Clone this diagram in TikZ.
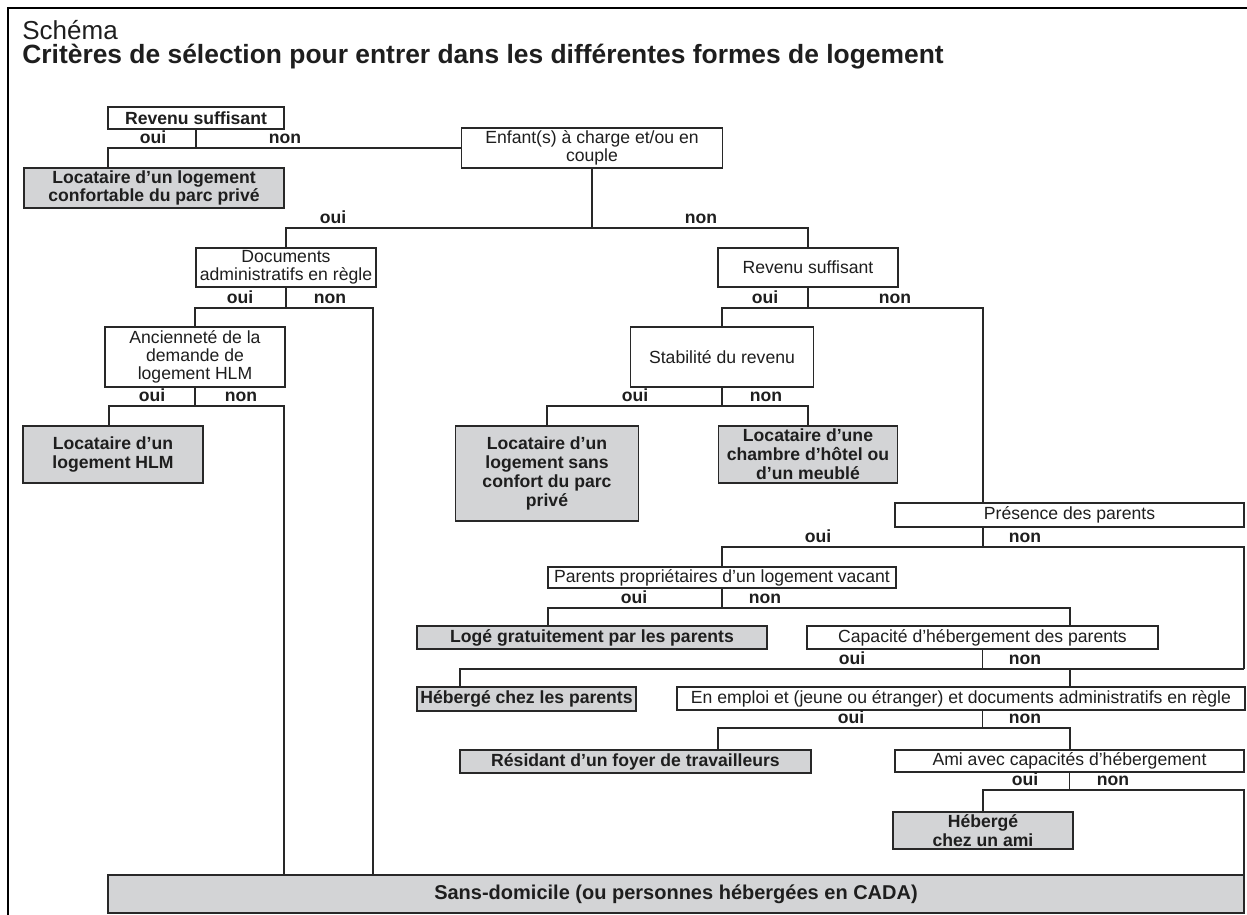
\documentclass[tikz,border=0pt]{standalone}
\usepackage{fontspec}
\setmainfont{Liberation Sans}
\definecolor{boxgray}{RGB}{211,212,214}
\definecolor{txtc}{RGB}{30,30,30}
\definecolor{linec}{RGB}{40,40,40}
\newcommand\regf{\fontsize{8.8}{9}\selectfont}
\newcommand\boldf{\fontsize{8.8}{9.4}\selectfont\bfseries}
\tikzset{
  wbox/.style={draw=linec, line width=0.9pt, fill=white, inner sep=0.5pt, align=center, font=\regf, text=txtc},
  gbox/.style={wbox, fill=boxgray, font=\boldf},
  lbl/.style={font=\boldf, anchor=base, inner sep=0pt, text=txtc},
  conn/.style={draw=linec, line width=0.8pt},
  frameline/.style={draw=black, line width=1.2pt},
}
\begin{document}
\begin{tikzpicture}[x=0.5pt,y=-0.5pt]
\useasboundingbox (0,0) rectangle (1247,915);
% frame
\coordinate (fa) at (8,915);
\coordinate (fb) at (8,8);
\coordinate (fc) at (1247,8);
\draw[frameline] (fa) -- (fb) -- (fc);
% titles
\node[anchor=base west, inner sep=0pt, font=\fontsize{13}{15}\selectfont, text=txtc] (t1) at (22,40) {Schéma};
\node[anchor=base west, inner sep=0pt, font=\fontsize{13.2}{15}\selectfont\bfseries, text=txtc] (t2) at (22,64) {Critères de sélection pour entrer dans les différentes formes de logement};
% boxes
\node[wbox, font=\boldf, minimum width=88pt, minimum height=11pt] (rs1) at (196,118) {Revenu suffisant};
\node[gbox, minimum width=130pt, minimum height=20pt] (lc) at (154,188) {Locataire d’un logement\\confortable du parc privé};
\node[wbox, minimum width=130.5pt, minimum height=20pt] (enf) at (592,148) {Enfant(s) à charge et/ou en\\couple};
\node[wbox, minimum width=90pt, minimum height=19.5pt] (docs) at (286,267.5) {Documents\\administratifs en règle};
\node[wbox, minimum width=90pt, minimum height=19.5pt] (rs2) at (808,267.5) {Revenu suffisant};
\node[wbox, minimum width=90pt, minimum height=30pt] (anc) at (195,357) {Ancienneté de la\\demande de\\logement HLM};
\node[gbox, minimum width=90pt, minimum height=28.5pt] (hlm) at (113,454.5) {Locataire d’un\\logement HLM};
\node[wbox, minimum width=91.5pt, minimum height=30pt] (stab) at (722,357) {Stabilité du revenu};
\node[gbox, minimum width=91.5pt, minimum height=47.5pt] (scp) at (547,473.5) {Locataire d’un\\logement sans\\confort du parc\\privé};
\node[gbox, minimum width=89.5pt, minimum height=28.5pt] (hotel) at (808,454.5) {Locataire d’une\\chambre d’hôtel ou\\d’un meublé};
\node[wbox, minimum width=174.5pt, minimum height=12pt] (pres) at (1069.5,515) {Présence des parents};
\node[wbox, minimum width=174pt, minimum height=10.5pt] (pp) at (722,577.5) {Parents propriétaires d’un logement vacant};
\node[gbox, minimum width=175pt, minimum height=11.5pt] (loge) at (592,637.5) {Logé gratuitement par les parents};
\node[wbox, minimum width=175.5pt, minimum height=11.5pt] (cap) at (982.5,637.5) {Capacité d’hébergement des parents};
\node[gbox, minimum width=109.5pt, minimum height=12pt] (hcp) at (526.5,699) {Hébergé chez les parents};
\node[wbox, minimum width=284pt, minimum height=11.5pt] (emp) at (961,698.5) {En emploi et (jeune ou étranger) et documents administratifs en règle};
\node[gbox, minimum width=175.5pt, minimum height=11.5pt] (res) at (635.5,761.5) {Résidant d’un foyer de travailleurs};
\node[wbox, minimum width=174.5pt, minimum height=11pt] (ami) at (1069.5,761) {Ami avec capacités d’hébergement};
\node[gbox, minimum width=90pt, minimum height=18.5pt] (ha) at (983,830.5) {Hébergé\\chez un ami};
\node[gbox, font=\fontsize{10}{11}\selectfont\bfseries, minimum width=568pt, minimum height=19pt] (sans) at (676,894) {Sans-domicile (ou personnes hébergées en CADA)};
% --- connectors
% RS1
\coordinate (b1) at (196,148);
\coordinate (b1l) at (108,148);
\draw[conn] (rs1.south) -- (b1);
\draw[conn] (lc.north -| b1l) -- (b1l) -- (enf.west);
\node[lbl] (l1a) at (153,143) {oui};
\node[lbl] (l1b) at (285,143) {non};
% Enfant
\coordinate (b2) at (592,228);
\draw[conn] (enf.south) -- (b2);
\draw[conn] (docs.north) |- (b2);
\draw[conn] (rs2.north) |- (b2);
\node[lbl] (l2a) at (333,223) {oui};
\node[lbl] (l2b) at (701,223) {non};
% Documents
\coordinate (b3) at (286,308);
\coordinate (b3r) at (373,308);
\draw[conn] (docs.south) -- (b3);
\draw[conn] (anc.north) |- (b3);
\draw[conn] (sans.north -| b3r) -- (b3r) -- (b3);
\node[lbl] (l3a) at (240,303) {oui};
\node[lbl] (l3b) at (330,303) {non};
% Anciennete
\coordinate (b4) at (195,406);
\coordinate (b4l) at (109,406);
\coordinate (b4r) at (284,406);
\draw[conn] (anc.south) -- (b4);
\draw[conn] (hlm.north -| b4l) -- (b4l) -- (b4);
\draw[conn] (sans.north -| b4r) -- (b4r) -- (b4);
\node[lbl] (l4a) at (152,401) {oui};
\node[lbl] (l4b) at (241,401) {non};
% RS2
\coordinate (b5) at (808,308);
\coordinate (b5r) at (983,308);
\draw[conn] (rs2.south) -- (b5);
\draw[conn] (stab.north) |- (b5);
\draw[conn] (pres.north -| b5r) -- (b5r) -- (b5);
\node[lbl] (l5a) at (765,303) {oui};
\node[lbl] (l5b) at (895,303) {non};
% Stabilite
\coordinate (b6) at (722,406);
\draw[conn] (stab.south) -- (b6);
\draw[conn] (scp.north) |- (b6);
\draw[conn] (hotel.north) |- (b6);
\node[lbl] (l6a) at (635,401) {oui};
\node[lbl] (l6b) at (766,401) {non};
% Presence
\coordinate (b7) at (983,547);
\coordinate (b7r) at (1244,547);
\coordinate (b9r) at (1244,669);
\draw[conn] (pres.south -| b7) -- (b7);
\draw[conn] (pp.north) |- (b7);
\draw[conn] (b7) -- (b7r) -- (b9r);
\node[lbl] (l7a) at (818,542) {oui};
\node[lbl] (l7b) at (1025,542) {non};
% Parents proprietaires
\coordinate (b8) at (722,608);
\coordinate (b8l) at (548,608);
\coordinate (b8r) at (1070,608);
\draw[conn] (pp.south) -- (b8);
\draw[conn] (loge.north -| b8l) -- (b8l) -- (b8);
\draw[conn] (cap.north -| b8r) -- (b8r) -- (b8);
\node[lbl] (l8a) at (634,603) {oui};
\node[lbl] (l8b) at (765,603) {non};
% Capacite
\coordinate (b9) at (982.5,669);
\coordinate (b9l) at (460,669);
\coordinate (b9m) at (1070,669);
\draw[conn] (cap.south) -- (b9);
\draw[conn] (hcp.north -| b9l) -- (b9l) -- (b9r);
\draw[conn] (emp.north -| b9m) -- (b9m);
\node[lbl] (l9a) at (852,664) {oui};
\node[lbl] (l9b) at (1025,664) {non};
% En emploi
\coordinate (b10) at (982.5,728);
\coordinate (b10l) at (718,728);
\coordinate (b10r) at (1070,728);
\draw[conn] (emp.south -| b10) -- (b10);
\draw[conn] (res.north -| b10l) -- (b10l) -- (b10r) -- (ami.north -| b10r);
\node[lbl] (l10a) at (851,723) {oui};
\node[lbl] (l10b) at (1025,723) {non};
% Ami
\coordinate (b11) at (1069.5,790);
\coordinate (b11r) at (1244,790);
\draw[conn] (ami.south) -- (b11);
\draw[conn] (ha.north) |- (b11r) -- (sans.north -| b11r);
\node[lbl] (l11a) at (1025,785) {oui};
\node[lbl] (l11b) at (1113,785) {non};
\end{tikzpicture}
\end{document}
